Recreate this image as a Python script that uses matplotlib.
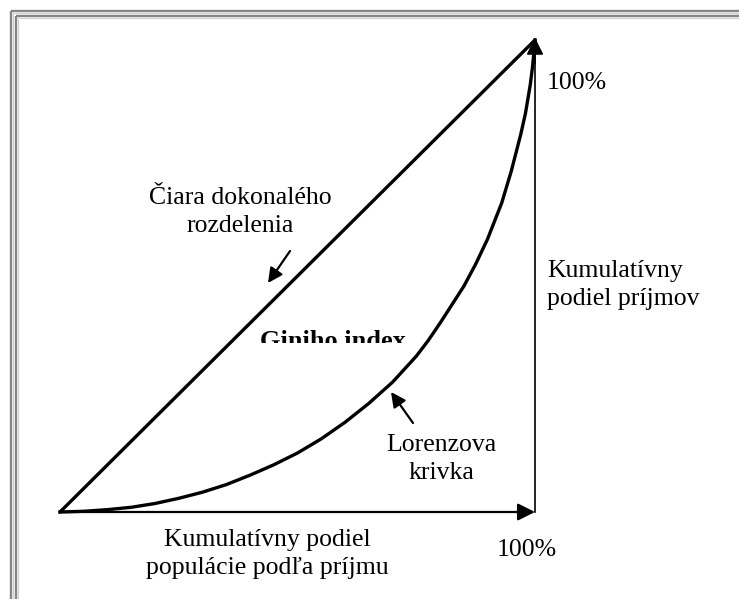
import matplotlib.pyplot as plt
import numpy as np
from matplotlib.patches import Rectangle

plt.rcParams['font.family'] = ['Liberation Serif', 'DejaVu Serif']

# Lorenz curve (share of population, share of income)
lorenz_x = [0.0, 0.05, 0.1, 0.15, 0.2, 0.25, 0.3, 0.35, 0.4, 0.45, 0.5, 0.55,
            0.6, 0.65, 0.7, 0.75, 0.775, 0.8, 0.85, 0.875, 0.9, 0.93, 0.95,
            0.97, 0.98, 0.99, 0.995, 1.0]
lorenz_y = [0.0, 0.0015, 0.005, 0.010, 0.018, 0.029, 0.042, 0.058, 0.078, 0.100,
            0.125, 0.155, 0.19, 0.230, 0.275, 0.330, 0.363, 0.400, 0.478, 0.525,
            0.578, 0.655, 0.722, 0.800, 0.845, 0.905, 0.945, 1.0]

# line of perfect equality
equal_x = [0.0, 1.0]
equal_y = [0.0, 1.0]

W, H = 739, 599
fig = plt.figure(figsize=(W / 100, H / 100), dpi=100)

# background axes in pixel units, used for the frame and the labels
bg = fig.add_axes([0, 0, 1, 1])
bg.set_xlim(0, W)
bg.set_ylim(H, 0)
bg.axis('off')

# double grey frame, cut off at right and bottom
for off, col, lw in [(10.5, '#858585', 1.7), (12.5, '#d0d0d0', 0.8),
                     (15.5, '#858585', 1.7), (17.5, '#d0d0d0', 0.8)]:
    bg.plot([off, W], [off, off], color=col, lw=lw, solid_capstyle='butt')
    bg.plot([off, off], [off, H], color=col, lw=lw, solid_capstyle='butt')

# main diagram axes: 0..1 in both directions
ax = fig.add_axes([60 / W, (H - 512) / H, 475 / W, 472 / H])
ax.set_xlim(0, 1)
ax.set_ylim(0, 1)
ax.axis('off')

ax.plot(equal_x, equal_y, color='black', lw=2.4, solid_capstyle='round', clip_on=False)
ax.plot(lorenz_x, lorenz_y, color='black', lw=2.4, solid_joinstyle='round', clip_on=False)
ax.plot([1, 1], [0, 1], color='black', lw=1.2, clip_on=False)

ax.annotate('', xy=(1, 0), xytext=(0, 0),
            arrowprops=dict(arrowstyle='-|>', mutation_scale=26, lw=1.6,
                            color='black', shrinkA=0, shrinkB=0), annotation_clip=False)
ax.annotate('', xy=(1, 1.005), xytext=(1, 0.95),
            arrowprops=dict(arrowstyle='-|>', mutation_scale=26, lw=1.2,
                            color='black', shrinkA=0, shrinkB=0), annotation_clip=False)

fs = 18.5
ls = 1.32
bg.text(240, 212, 'Čiara dokonalého\nrozdelenia', ha='center', va='center',
        fontsize=fs, linespacing=ls)
bg.annotate('', xy=(268, 283), xytext=(290, 251),
            arrowprops=dict(arrowstyle='-|>', mutation_scale=22, lw=1.6,
                            color='black', shrinkA=0, shrinkB=0))

gini = bg.text(260, 348, 'Giniho index', ha='left', va='baseline',
               fontsize=19, fontweight='bold', clip_on=True)
clip = Rectangle((0, 300), W, 43, transform=bg.transData)
gini.set_clip_path(clip)

bg.text(441, 459, 'Lorenzova\nkrivka', ha='center', va='center',
        fontsize=fs, linespacing=ls)
bg.annotate('', xy=(391, 392), xytext=(413, 423),
            arrowprops=dict(arrowstyle='-|>', mutation_scale=22, lw=1.6,
                            color='black', shrinkA=0, shrinkB=0))

bg.text(547, 285, 'Kumulatívny\npodiel príjmov', ha='left', va='center',
        fontsize=fs, linespacing=ls)
bg.text(577, 83, '100%', ha='center', va='center', fontsize=fs)

bg.text(267, 554, 'Kumulatívny podiel\npopulácie podľa príjmu', ha='center',
        va='center', fontsize=fs, linespacing=ls)
bg.text(527, 550, '100%', ha='center', va='center', fontsize=fs)

fig.savefig('out.png', dpi=100)
